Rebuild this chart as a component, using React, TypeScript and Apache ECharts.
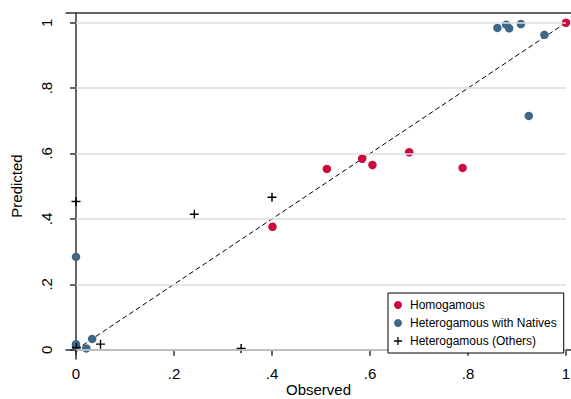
import React, { useEffect, useRef } from "react";
import * as echarts from "echarts";

const homogamous: [number, number][] = [
  [1.0, 1.0],
  [0.401, 0.376],
  [0.512, 0.553],
  [0.584, 0.584],
  [0.605, 0.565],
  [0.68, 0.604],
  [0.789, 0.556],
];

const heteroNatives: [number, number][] = [
  [0.86, 0.984],
  [0.878, 0.994],
  [0.884, 0.983],
  [0.908, 0.996],
  [0.956, 0.963],
  [0.924, 0.715],
  [0.0, 0.284],
  [0.0, 0.017],
  [0.0, 0.008],
  [0.021, 0.004],
  [0.033, 0.033],
];

const heteroOthers: [number, number][] = [
  [0.0, 0.453],
  [0.2415, 0.414],
  [0.4, 0.466],
  [0.337, 0.004],
  [0.05, 0.017],
  [0.001, 0.007],
];

const tickValues = [0, 0.2, 0.4, 0.6, 0.8, 1];
const diagonal: [number, number][] = [
  [0, 0],
  [1, 1],
];

const FONT = "'Liberation Sans', Arial, Helvetica, sans-serif";
const RED = "#cc0b3c";
const BLUE = "#3f6888";
const PLUS = "path://M0,4.2H10V5.8H0Z M4.2,0H5.8V10H4.2Z";

const fmt = (v: number) => {
  if (Math.abs(v) < 1e-9) return "0";
  if (Math.abs(v - 1) < 1e-9) return "1";
  return v.toFixed(1).replace(/^0/, "");
};

export default function App() {
  const ref = useRef<HTMLDivElement>(null);
  useEffect(() => {
    if (!ref.current) return;
    const chart = echarts.init(ref.current, undefined, { renderer: "svg" });
    const axisLineStyle = { color: "#333", width: 1.5 };
    chart.setOption({
      animation: false,
      backgroundColor: "#fff",
      textStyle: { fontFamily: FONT },
      grid: {
        left: 66,
        right: 0,
        top: 13,
        height: 346,
        containLabel: false,
        outerBoundsMode: "none",
      },
      xAxis: [
        {
          type: "value",
          min: -0.0204,
          max: 1.0102,
          name: "Observed",
          nameLocation: "middle",
          nameGap: 22,
          nameMoveOverlap: false,
          nameTextStyle: { fontSize: 15, lineHeight: 16, color: "#000", fontFamily: FONT },
          axisLine: { show: true, lineStyle: axisLineStyle },
          axisTick: { show: true, length: 6, lineStyle: axisLineStyle, customValues: tickValues },
          axisLabel: {
            show: true,
            customValues: tickValues,
            formatter: fmt,
            fontSize: 15,
            color: "#000",
            margin: 7,
            fontFamily: FONT,
          },
          splitLine: { show: false },
        },
        {
          type: "value",
          position: "top",
          min: -0.0204,
          max: 1.0102,
          axisLine: { show: true, lineStyle: axisLineStyle },
          axisTick: { show: false },
          axisLabel: { show: false },
          splitLine: { show: false },
        },
      ],
      yAxis: {
        type: "value",
        min: -0.0284,
        max: 1.0297,
        name: "Predicted",
        nameLocation: "middle",
        nameGap: 42,
        nameMoveOverlap: false,
        nameTextStyle: { fontSize: 15, lineHeight: 16, color: "#000", fontFamily: FONT },
        axisLine: { show: true, lineStyle: axisLineStyle },
        axisTick: { show: true, length: 6, lineStyle: axisLineStyle, customValues: tickValues },
        axisLabel: {
          show: true,
          customValues: tickValues,
          formatter: fmt,
          rotate: 90,
          fontSize: 15,
          color: "#000",
          margin: 12,
          fontFamily: FONT,
        },
        splitLine: { show: false },
      },
      legend: {
        orient: "vertical",
        left: 388,
        top: 293,
        z: 20,
        padding: [6, 7, 6, 6],
        borderColor: "#000",
        borderWidth: 1,
        itemWidth: 8,
        itemHeight: 8,
        itemGap: 6,
        backgroundColor: "#fff",
        textStyle: { fontSize: 12, color: "#000", fontFamily: FONT, padding: [0, 0, 0, 3] },
        data: [
          { name: "Homogamous", icon: "circle" },
          { name: "Heterogamous with Natives", icon: "circle" },
          { name: "Heterogamous (Others)", icon: PLUS },
        ],
      },
      series: [
        {
          name: "grid",
          type: "line",
          data: [],
          symbol: "none",
          silent: true,
          z: 0,
          markLine: {
            silent: true,
            symbol: ["none", "none"],
            label: { show: false },
            lineStyle: { color: "#dddddd", width: 1.5, type: "solid" },
            emphasis: { disabled: true },
            data: tickValues.map((v) => [
              { xAxis: 0, yAxis: v },
              { xAxis: 1, yAxis: v },
            ]),
          },
        },
        {
          name: "diag",
          type: "line",
          data: diagonal,
          symbol: "none",
          silent: true,
          lineStyle: { color: "#000", width: 1, type: [5, 3] },
          z: 1,
        },
        {
          name: "Homogamous",
          type: "scatter",
          data: homogamous,
          symbol: "circle",
          symbolSize: 8.5,
          itemStyle: { color: RED, opacity: 1 },
          z: 3,
        },
        {
          name: "Heterogamous with Natives",
          type: "scatter",
          data: heteroNatives,
          symbol: "circle",
          symbolSize: 8.5,
          itemStyle: { color: BLUE, opacity: 1 },
          z: 3,
        },
        {
          name: "Heterogamous (Others)",
          type: "scatter",
          data: heteroOthers,
          symbol: PLUS,
          symbolSize: 9,
          itemStyle: { color: "#000", opacity: 1 },
          z: 4,
        },
      ],
    });
    return () => chart.dispose();
  }, []);
  return (
    <div
      ref={ref}
      style={{ position: "absolute", left: 0, top: 0, width: 571, height: 399 }}
    />
  );
}
